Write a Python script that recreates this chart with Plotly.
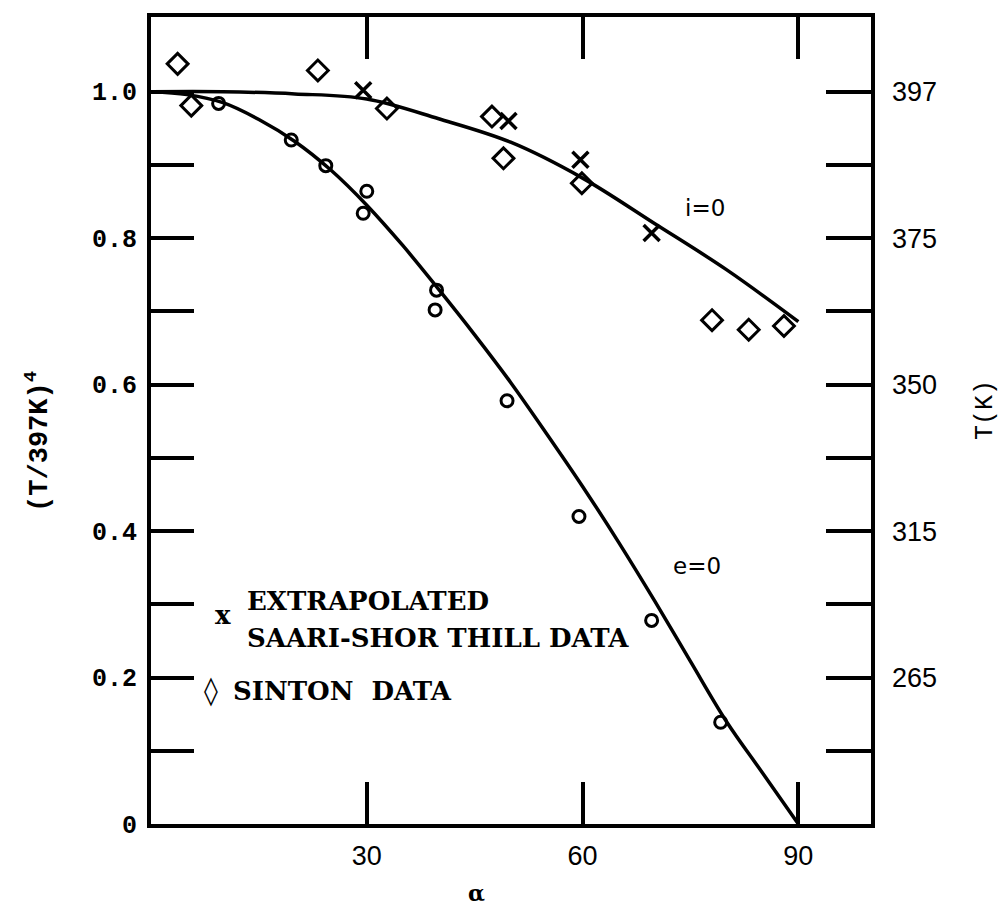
import plotly.graph_objects as go

# ---- data ----
# lunar brightness-temperature points (circles)
circ_alpha = [9.4, 19.5, 24.3, 30.0, 29.5, 39.7, 39.5, 49.5, 59.5, 69.6, 79.2]
circ_val = [0.984, 0.934, 0.899, 0.864, 0.834, 0.729, 0.702, 0.578, 0.420, 0.278, 0.139]

# Sinton data (diamonds)
sinton_alpha = [3.7, 5.6, 23.2, 32.8, 47.4, 49.0, 59.9, 78.0, 83.1, 88.0]
sinton_val = [1.038, 0.981, 1.029, 0.977, 0.966, 0.909, 0.875, 0.688, 0.675, 0.680]

# Extrapolated Saari-Shorthill data (x)
saari_alpha = [29.5, 49.7, 59.7, 69.6]
saari_val = [1.002, 0.960, 0.907, 0.807]

# i=0 curve
i0_alpha = [0, 10, 20, 30, 40, 50, 60, 70, 80, 90]
i0_val = [1.0, 1.0, 0.997, 0.99, 0.963, 0.931, 0.882, 0.820, 0.757, 0.686]

# e=0 curve
e0_alpha = [0, 5, 10, 15, 20, 25, 30, 35, 40, 45, 50, 55, 60, 65, 70, 75, 80, 85, 90]
e0_val = [1.0, 0.996, 0.985, 0.962, 0.932, 0.893, 0.845, 0.790, 0.730, 0.668, 0.603,
          0.533, 0.461, 0.385, 0.305, 0.222, 0.140, 0.070, 0.0]

x_ticks = [30, 60, 90]
y_ticks = [0.0, 0.1, 0.2, 0.3, 0.4, 0.5, 0.6, 0.7, 0.8, 0.9, 1.0]
y_labels = ["0", "", "0.2", "", "0.4", "", "0.6", "", "0.8", "", "1.0"]
t_ticks = [0.1, 0.2, 0.3, 0.4, 0.5, 0.6, 0.7, 0.8, 0.9, 1.0]
t_labels = ["", "265", "", "315", "", "350", "", "375", "", "397"]

# ---- layout geometry (page pixels; the page body has an 8px margin) ----
OFF = 8
PAGE_W, PAGE_H = 1006, 907
W, H = PAGE_W - OFF, PAGE_H - OFF
L, R, T, B = 151, 871, 13, 824   # plot area in page pixels


def pxx(x):
    return (x - L) / (R - L)


def pxy(y):
    return (B - y) / (B - T)


fig = go.Figure()
fig.add_trace(go.Scatter(x=e0_alpha, y=e0_val, mode="lines",
                         line=dict(color="black", width=3.5, shape="spline", smoothing=1.0),
                         showlegend=False))
fig.add_trace(go.Scatter(x=i0_alpha, y=i0_val, mode="lines",
                         line=dict(color="black", width=3.5, shape="spline", smoothing=1.0),
                         showlegend=False, yaxis="y2"))
fig.add_trace(go.Scatter(x=circ_alpha, y=circ_val, mode="markers",
                         marker=dict(symbol="circle-open", size=12, color="black", line=dict(width=3)),
                         showlegend=False))
fig.add_trace(go.Scatter(x=sinton_alpha, y=sinton_val, mode="markers",
                         marker=dict(symbol="diamond-open", size=16, color="black", line=dict(width=3)),
                         showlegend=False))
fig.add_trace(go.Scatter(x=saari_alpha, y=saari_val, mode="markers",
                         marker=dict(symbol="x-thin-open", size=16, color="black", line=dict(width=3.5)),
                         showlegend=False))

mono = "Liberation Mono"
sans = "Liberation Sans"
serif = "DejaVu Serif"

fig.update_layout(
    width=W, height=H,
    margin=dict(l=L - OFF, r=PAGE_W - R, t=T - OFF, b=PAGE_H - B),
    paper_bgcolor="white", plot_bgcolor="white",
    xaxis=dict(range=[0, 100.1], tickvals=x_ticks, ticks="inside", ticklen=42, tickwidth=4, tickcolor="black",
               showline=True, linewidth=4, linecolor="black", mirror="ticks", showgrid=False, zeroline=False,
               tickfont=dict(family=sans, size=27, color="black"), ticklabelstandoff=5),
    yaxis=dict(range=[0, 1.102], tickvals=y_ticks, ticktext=y_labels, ticks="inside", ticklen=43, tickwidth=4,
               tickcolor="black", showline=True, linewidth=4, linecolor="black", mirror=True, showgrid=False,
               zeroline=False, tickfont=dict(family=mono, size=25, color="black", weight="bold"),
               ticklabelstandoff=5),
    yaxis2=dict(matches="y", overlaying="y", side="right", tickvals=t_ticks, ticktext=t_labels, ticks="inside",
                ticklen=45, tickwidth=4, tickcolor="black", showline=False, showgrid=False, zeroline=False,
                tickfont=dict(family=sans, size=27, color="black"), ticklabelstandoff=20),
    showlegend=False,
)

ann = []
ann.append(dict(x=pxx(38), y=pxy(440), text="(T/397K)<sup>4</sup>", textangle=-90,
                font=dict(family=mono, size=27, color="black", weight="bold")))
ann.append(dict(x=pxx(985), y=pxy(408), text="T(K)", textangle=-90,
                font=dict(family=mono, size=25, color="black")))
ann.append(dict(x=pxx(476), y=pxy(893), text="α",
                font=dict(family=serif, size=22, color="black", weight="bold")))
ann.append(dict(x=pxx(705), y=pxy(205), text="i=0", font=dict(family="DejaVu Sans", size=23, color="black")))
ann.append(dict(x=pxx(697), y=pxy(565), text="e=0", font=dict(family="DejaVu Sans", size=23, color="black")))
ann.append(dict(x=pxx(223), y=pxy(614), text="x", font=dict(family=serif, size=26, color="black", weight="bold")))
ann.append(dict(x=pxx(211), y=pxy(690), text="◊", font=dict(family="DejaVu Sans", size=28, color="black",
                                                            weight="bold")))
ann.append(dict(x=pxx(245), y=pxy(600), text="EXTRAPOLATED", xanchor="left",
                font=dict(family=serif, size=26, color="black", weight="bold")))
ann.append(dict(x=pxx(245), y=pxy(637), text="SAARI-SHOR THILL DATA", xanchor="left",
                font=dict(family=serif, size=26, color="black", weight="bold")))
ann.append(dict(x=pxx(231), y=pxy(690), text="SINTON  DATA", xanchor="left",
                font=dict(family=serif, size=26, color="black", weight="bold")))
for a in ann:
    a.update(xref="paper", yref="paper", showarrow=False)
    a.setdefault("xanchor", "center")
    a.setdefault("yanchor", "middle")
fig.update_layout(annotations=ann)

fig.write_html("out.html")
